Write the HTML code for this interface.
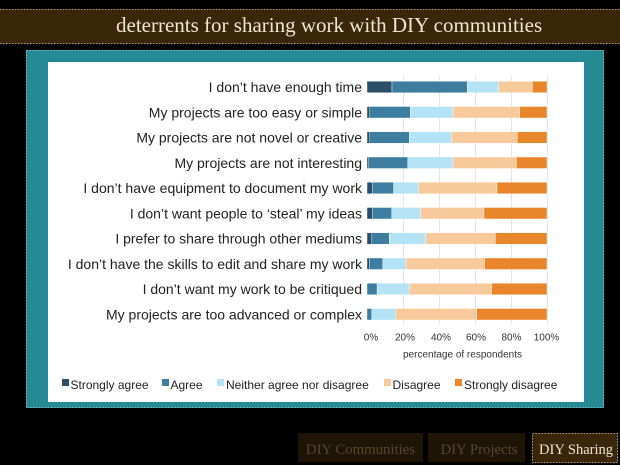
<!DOCTYPE html>
<html><head><meta charset="utf-8"><style>
html,body{margin:0;padding:0;background:#000;}
svg{display:block;}
</style></head><body>
<svg width="620" height="465" viewBox="0 0 620 465" xmlns="http://www.w3.org/2000/svg">
<rect x="0" y="0" width="620" height="465" fill="#000"/>
<!-- header -->
<rect x="0" y="9" width="620" height="35" fill="#3a2608"/>
<line x1="0" y1="9.5" x2="620" y2="9.5" stroke="#a89a80" stroke-width="1" stroke-dasharray="1.5,1.5"/>
<line x1="0" y1="43.5" x2="620" y2="43.5" stroke="#a89a80" stroke-width="1" stroke-dasharray="1.5,1.5"/>
<text x="116" y="32" font-family="Liberation Serif, serif" font-size="21" fill="#efe6cf">deterrents for sharing work with DIY communities</text>
<!-- teal panel -->
<rect x="26" y="50" width="578" height="358" fill="#268a94"/>
<rect x="26.5" y="50.5" width="577" height="357" fill="none" stroke="#7fb8b8" stroke-width="1" stroke-dasharray="1.5,1.5"/>
<rect x="48" y="62" width="536" height="340" fill="#fff"/>
<!-- gridlines -->
<g stroke="#e4e4e4" stroke-width="1">
<line x1="403.5" y1="76" x2="403.5" y2="324"/>
<line x1="439.5" y1="76" x2="439.5" y2="324"/>
<line x1="475.5" y1="76" x2="475.5" y2="324"/>
<line x1="511.5" y1="76" x2="511.5" y2="324"/>
<line x1="547.5" y1="76" x2="547.5" y2="324"/>
</g>
<!-- labels -->
<g font-family="Liberation Sans, sans-serif" font-size="14" fill="#222" text-anchor="end">
<text x="362" y="92">I don’t have enough time</text>
<text x="362" y="117.25">My projects are too easy or simple</text>
<text x="362" y="142.5">My projects are not novel or creative</text>
<text x="362" y="167.75">My projects are not interesting</text>
<text x="362" y="193">I don’t have equipment to document my work</text>
<text x="362" y="218.25">I don’t want people to ‘steal’ my ideas</text>
<text x="362" y="243.5">I prefer to share through other mediums</text>
<text x="362" y="268.75">I don’t have the skills to edit and share my work</text>
<text x="362" y="294">I don’t want my work to be critiqued</text>
<text x="362" y="319.25">My projects are too advanced or complex</text>
</g>
<!-- bars -->
<g stroke="#fff" stroke-width="0.4">
<!-- row1 -->
<rect x="367" y="81.25" width="25" height="11.5" fill="#2b4f68"/>
<rect x="392" y="81.25" width="75.4" height="11.5" fill="#3d7ea0"/>
<rect x="467.4" y="81.25" width="31.4" height="11.5" fill="#b3e3f5"/>
<rect x="498.8" y="81.25" width="33.6" height="11.5" fill="#f7c99b"/>
<rect x="532.4" y="81.25" width="14.6" height="11.5" fill="#e9862c"/>
<!-- row2 -->
<rect x="367" y="106.5" width="2.7" height="11.5" fill="#2b4f68"/>
<rect x="369.7" y="106.5" width="40.5" height="11.5" fill="#3d7ea0"/>
<rect x="410.2" y="106.5" width="42.8" height="11.5" fill="#b3e3f5"/>
<rect x="453" y="106.5" width="66.6" height="11.5" fill="#f7c99b"/>
<rect x="519.6" y="106.5" width="27.4" height="11.5" fill="#e9862c"/>
<!-- row3 -->
<rect x="367" y="131.75" width="2.7" height="11.5" fill="#2b4f68"/>
<rect x="369.7" y="131.75" width="39.6" height="11.5" fill="#3d7ea0"/>
<rect x="409.3" y="131.75" width="42.3" height="11.5" fill="#b3e3f5"/>
<rect x="451.6" y="131.75" width="65.7" height="11.5" fill="#f7c99b"/>
<rect x="517.3" y="131.75" width="29.7" height="11.5" fill="#e9862c"/>
<!-- row4 -->
<rect x="367" y="157" width="1.8" height="11.5" fill="#2b4f68"/>
<rect x="368.8" y="157" width="38.9" height="11.5" fill="#3d7ea0"/>
<rect x="407.7" y="157" width="45.3" height="11.5" fill="#b3e3f5"/>
<rect x="453" y="157" width="63.4" height="11.5" fill="#f7c99b"/>
<rect x="516.4" y="157" width="30.6" height="11.5" fill="#e9862c"/>
<!-- row5 -->
<rect x="367" y="182.25" width="5.2" height="11.5" fill="#2b4f68"/>
<rect x="372.2" y="182.25" width="21.4" height="11.5" fill="#3d7ea0"/>
<rect x="393.6" y="182.25" width="25.1" height="11.5" fill="#b3e3f5"/>
<rect x="418.7" y="182.25" width="78.3" height="11.5" fill="#f7c99b"/>
<rect x="497" y="182.25" width="50" height="11.5" fill="#e9862c"/>
<!-- row6 -->
<rect x="367" y="207.5" width="5.2" height="11.5" fill="#2b4f68"/>
<rect x="372.2" y="207.5" width="19.5" height="11.5" fill="#3d7ea0"/>
<rect x="391.7" y="207.5" width="28.9" height="11.5" fill="#b3e3f5"/>
<rect x="420.6" y="207.5" width="63.4" height="11.5" fill="#f7c99b"/>
<rect x="484" y="207.5" width="63" height="11.5" fill="#e9862c"/>
<!-- row7 -->
<rect x="367" y="232.75" width="4.7" height="11.5" fill="#2b4f68"/>
<rect x="371.7" y="232.75" width="17.6" height="11.5" fill="#3d7ea0"/>
<rect x="389.3" y="232.75" width="36.4" height="11.5" fill="#b3e3f5"/>
<rect x="425.7" y="232.75" width="69.6" height="11.5" fill="#f7c99b"/>
<rect x="495.3" y="232.75" width="51.7" height="11.5" fill="#e9862c"/>
<!-- row8 -->
<rect x="367" y="258" width="2.3" height="11.5" fill="#2b4f68"/>
<rect x="369.3" y="258" width="13.4" height="11.5" fill="#3d7ea0"/>
<rect x="382.7" y="258" width="23.4" height="11.5" fill="#b3e3f5"/>
<rect x="406.1" y="258" width="78.6" height="11.5" fill="#f7c99b"/>
<rect x="484.7" y="258" width="62.3" height="11.5" fill="#e9862c"/>
<!-- row9 -->
<rect x="367" y="283.25" width="10.1" height="11.5" fill="#3d7ea0"/>
<rect x="377.1" y="283.25" width="32.2" height="11.5" fill="#b3e3f5"/>
<rect x="409.3" y="283.25" width="82.4" height="11.5" fill="#f7c99b"/>
<rect x="491.7" y="283.25" width="55.3" height="11.5" fill="#e9862c"/>
<!-- row10 -->
<rect x="367" y="308.5" width="4.7" height="11.5" fill="#3d7ea0"/>
<rect x="371.7" y="308.5" width="24.1" height="11.5" fill="#b3e3f5"/>
<rect x="395.8" y="308.5" width="81" height="11.5" fill="#f7c99b"/>
<rect x="476.8" y="308.5" width="70.2" height="11.5" fill="#e9862c"/>
</g>
<!-- axis ticks -->
<g font-family="Liberation Sans, sans-serif" font-size="10" fill="#333" text-anchor="middle">
<text x="371" y="340.5">0%</text>
<text x="405" y="340.5">20%</text>
<text x="441" y="340.5">40%</text>
<text x="476" y="340.5">60%</text>
<text x="511.5" y="340.5">80%</text>
<text x="546.5" y="340.5">100%</text>
<text x="462.5" y="357.5">percentage of respondents</text>
</g>
<!-- legend -->
<g font-family="Liberation Sans, sans-serif" font-size="12" fill="#222">
<rect x="62" y="379" width="7" height="7" fill="#2b4f68"/>
<text x="70.5" y="389">Strongly agree</text>
<rect x="162" y="379" width="7" height="7" fill="#3d7ea0"/>
<text x="170.5" y="389">Agree</text>
<rect x="217" y="379" width="7" height="7" fill="#b3e3f5"/>
<text x="226" y="389">Neither agree nor disagree</text>
<rect x="384" y="379" width="7" height="7" fill="#f7c99b"/>
<text x="392.5" y="389">Disagree</text>
<rect x="455" y="379" width="7" height="7" fill="#e9862c"/>
<text x="464" y="389">Strongly disagree</text>
</g>
<!-- bottom nav -->
<rect x="298" y="433" width="125" height="29" fill="#1f1507"/>
<text x="360.5" y="454" font-family="Liberation Serif, serif" font-size="14.8" fill="#56472e" text-anchor="middle">DIY Communities</text>
<rect x="428" y="433" width="97" height="29" fill="#1f1507"/>
<text x="479" y="454" font-family="Liberation Serif, serif" font-size="14.8" fill="#56472e" text-anchor="middle">DIY Projects</text>
<rect x="532" y="433" width="86" height="30" fill="#3a2608"/>
<rect x="532.5" y="433.5" width="85" height="29" fill="none" stroke="#a89a80" stroke-width="1" stroke-dasharray="1.5,1.5"/>
<text x="576" y="454" font-family="Liberation Serif, serif" font-size="14.5" fill="#efe6cf" text-anchor="middle">DIY Sharing</text>
</svg>
</body></html>
